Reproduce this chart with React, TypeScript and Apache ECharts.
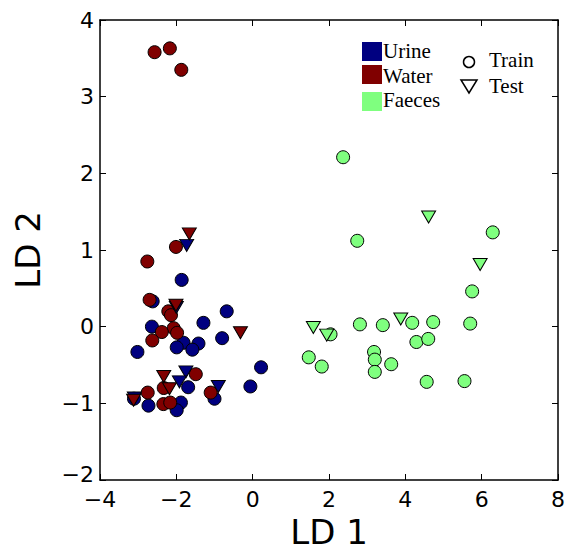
import React, { useEffect, useRef } from "react";
import * as echarts from "echarts";

// Urine (blue), Water (red), Faeces (green); train = circles, test = down triangles
const urineTrain: [number, number][] = [
  [-1.86, 0.61], [-2.62, 0.33], [-0.68, 0.2], [-1.29, 0.05], [-2.64, 0.0],
  [-0.8, -0.15], [-1.81, -0.21], [-1.42, -0.22], [-1.99, -0.27], [-1.58, -0.3],
  [-3.02, -0.33], [0.22, -0.53], [-0.06, -0.78], [-1.69, -0.79], [-1.0, -0.94],
  [-3.11, -0.94], [-2.73, -1.03], [-1.88, -0.99], [-1.99, -1.09],
];
const waterTrain: [number, number][] = [
  [-2.57, 3.58], [-2.17, 3.63], [-1.87, 3.35],
  [-2.01, 1.04], [-2.76, 0.85], [-2.7, 0.35], [-2.21, 0.2], [-2.14, 0.15],
  [-2.07, -0.02], [-2.38, -0.07], [-1.98, -0.08], [-2.63, -0.18], [-1.49, -0.62],
  [-2.75, -0.86], [-2.33, -0.8], [-1.1, -0.86], [-2.34, -1.01], [-2.16, -0.99],
];
const faecesTrain: [number, number][] = [
  [2.37, 2.21], [2.74, 1.12], [6.29, 1.23], [5.75, 0.46], [2.81, 0.03],
  [3.41, 0.02], [4.18, 0.05], [4.73, 0.06], [5.7, 0.04], [2.04, -0.1],
  [4.29, -0.2], [4.6, -0.16], [1.47, -0.4], [1.81, -0.52], [3.18, -0.33],
  [3.2, -0.43], [3.2, -0.59], [3.63, -0.49], [4.56, -0.72], [5.55, -0.71],
];
const urineTest: [number, number][] = [
  [-1.73, 1.06], [-2.0, 0.25], [-1.75, -0.59], [-1.92, -0.72], [-0.9, -0.78], [-3.1, -0.93],
];
const waterTest: [number, number][] = [
  [-1.66, 1.21], [-2.01, 0.28], [-0.32, -0.08], [-2.33, -0.65], [-2.18, -0.81], [-3.12, -0.96],
];
const faecesTest: [number, number][] = [
  [4.61, 1.43], [5.96, 0.81], [3.88, 0.1], [1.59, -0.01], [1.94, -0.11],
];

const groupNames = ["Urine", "Water", "Faeces"];
const groupColors = ["#000080", "#800000", "#7fff7f"];
const xTicks = [-4, -2, 0, 2, 4, 6, 8];
const yTicks = [-2, -1, 0, 1, 2, 3, 4];

const fmt = (v: number) => String(v).replace("-", "\u2212");

export default function App() {
  const ref = useRef<HTMLDivElement>(null);
  useEffect(() => {
    const chart = echarts.init(ref.current!, null, { renderer: "svg" });
    const axisFont = { fontFamily: "DejaVu Sans", fontSize: 22, color: "#000" };
    const lineStyle = { color: "#000", width: 1.5 };
    const tick = { show: true, inside: true, length: 6, lineStyle: { color: "#000", width: 1 } };
    const circ = (data: [number, number][], color: string) => ({
      type: "scatter",
      data,
      symbol: "circle",
      symbolSize: 13,
      itemStyle: { color, borderColor: "#000", borderWidth: 1, opacity: 1 },
      xAxisIndex: 0,
      yAxisIndex: 0,
    });
    const tri = (data: [number, number][], color: string) => ({
      type: "scatter",
      data,
      symbol: "triangle",
      symbolRotate: 180,
      symbolSize: [14, 12],
      itemStyle: { color, borderColor: "#000", borderWidth: 1, opacity: 1 },
      xAxisIndex: 0,
      yAxisIndex: 0,
    });
    const serif = "Liberation Serif";
    const legendGraphics: any[] = [];
    const sqY = [42, 65, 92];
    const txY = [51, 76, 100];
    groupNames.forEach((n, i) => {
      legendGraphics.push({
        type: "rect",
        shape: { x: 362, y: sqY[i], width: 20, height: 19 },
        style: { fill: groupColors[i] },
      });
      legendGraphics.push({
        type: "text",
        x: 383,
        y: txY[i],
        style: { text: n, font: `21px "${serif}"`, fill: "#000", verticalAlign: "middle", align: "left" },
      });
    });
    legendGraphics.push({
      type: "circle",
      shape: { cx: 469, cy: 62, r: 5.5 },
      style: { fill: "#fff", stroke: "#000", lineWidth: 1.5 },
    });
    legendGraphics.push({
      type: "polygon",
      shape: { points: [[461, 80], [477, 80], [469, 93]] },
      style: { fill: "#fff", stroke: "#000", lineWidth: 1.5 },
    });
    legendGraphics.push({
      type: "text",
      x: 489,
      y: 60,
      style: { text: "Train", font: `21px "${serif}"`, fill: "#000", verticalAlign: "middle", align: "left" },
    });
    legendGraphics.push({
      type: "text",
      x: 489,
      y: 86,
      style: { text: "Test", font: `21px "${serif}"`, fill: "#000", verticalAlign: "middle", align: "left" },
    });

    chart.setOption({
      animation: false,
      backgroundColor: "#fff",
      grid: { left: 100, right: 6, top: 20, bottom: 71, containLabel: false },
      xAxis: [
        {
          type: "value",
          min: xTicks[0],
          max: xTicks[xTicks.length - 1],
          interval: 2,
          name: "LD 1",
          nameLocation: "middle",
          nameGap: 35,
          nameTextStyle: { fontFamily: "DejaVu Sans", fontSize: 34, color: "#000" },
          axisLine: { show: true, onZero: false, lineStyle },
          axisTick: tick,
          axisLabel: { ...axisFont, margin: 8, formatter: fmt },
          splitLine: { show: false },
        },
        {
          type: "value",
          position: "top",
          min: xTicks[0],
          max: xTicks[xTicks.length - 1],
          interval: 2,
          axisLine: { show: true, onZero: false, lineStyle },
          axisTick: tick,
          axisLabel: { show: false },
          splitLine: { show: false },
        },
      ],
      yAxis: [
        {
          type: "value",
          min: yTicks[0],
          max: yTicks[yTicks.length - 1],
          interval: 1,
          name: "LD 2",
          nameLocation: "middle",
          nameGap: 55,
          nameTextStyle: { fontFamily: "DejaVu Sans", fontSize: 34, color: "#000" },
          axisLine: { show: true, onZero: false, lineStyle },
          axisTick: tick,
          axisLabel: {
            ...axisFont,
            margin: 6,
            formatter: (v: number) => (v === yTicks[0] ? `{lo|${fmt(v)}}` : fmt(v)),
            rich: { lo: { ...axisFont, padding: [0, 0, 12, 0] } },
          },
          splitLine: { show: false },
        },
        {
          type: "value",
          position: "right",
          min: yTicks[0],
          max: yTicks[yTicks.length - 1],
          interval: 1,
          axisLine: { show: true, onZero: false, lineStyle },
          axisTick: tick,
          axisLabel: { show: false },
          splitLine: { show: false },
        },
      ],
      series: [
        circ(urineTrain, groupColors[0]),
        circ(waterTrain, groupColors[1]),
        circ(faecesTrain, groupColors[2]),
        tri(urineTest, groupColors[0]),
        tri(waterTest, groupColors[1]),
        tri(faecesTest, groupColors[2]),
      ],
      graphic: legendGraphics,
    });
    return () => chart.dispose();
  }, []);
  return (
    <div
      ref={ref}
      style={{ position: "fixed", left: 0, top: 0, width: 568, height: 554, background: "#fff" }}
    />
  );
}
